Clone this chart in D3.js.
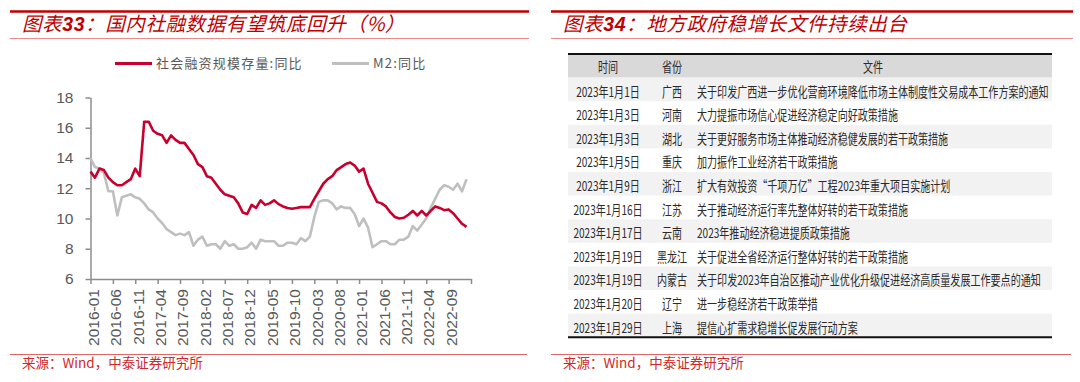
<!DOCTYPE html>
<html>
<head>
<meta charset="utf-8">
<script src="https://cdn.jsdelivr.net/npm/d3@7/dist/d3.min.js"></script>
<style>
  body { margin: 0; background: #fff; }
  svg { display: block; }
</style>
</head>
<body>
<div id="root"></div>
<script>
// monthly categories 2016-01 .. 2023-01
const months = d3.utcMonth.range(new Date(Date.UTC(2016, 0, 1)), new Date(Date.UTC(2023, 1, 1)))
  .map(d3.utcFormat('%Y-%m'));

// 社会融资规模存量:同比
const tsfYoy = [
  13.1, 12.7, 13.3, 13.2, 12.7, 12.4, 12.2, 12.2, 12.4, 12.6,
  13.3, 12.8, 16.4, 16.4, 15.8, 15.6, 15.5, 15.0, 15.5, 15.2,
  15.0, 15.0, 14.6, 14.2, 13.6, 13.4, 12.8, 12.7, 12.3, 11.9,
  11.6, 11.5, 11.4, 11.0, 10.4, 10.3, 10.9, 10.7, 11.2, 10.9,
  11.0, 11.2, 10.95, 10.8, 10.7, 10.65, 10.7, 10.75, 10.75, 10.75,
  11.3, 11.8, 12.3, 12.6, 12.8, 13.2, 13.4, 13.6, 13.7, 13.5,
  13.1, 13.3, 12.3, 11.7, 11.1, 11.0, 10.8, 10.4, 10.1, 10.0,
  10.05, 10.25, 10.5, 10.2, 10.5, 10.2, 10.5, 10.8, 10.7, 10.55,
  10.6, 10.35, 10.0, 9.65, 9.45
];

// M2:同比
const m2Yoy = [
  14.0, 13.4, 13.3, 13.0, 11.8, 11.8, 10.2, 11.4, 11.5, 11.6,
  11.4, 11.3, 11.0, 10.6, 10.4, 10.0, 9.7, 9.3, 9.1, 8.9,
  9.0, 8.9, 9.1, 8.2, 8.6, 8.8, 8.2, 8.3, 8.3, 8.0,
  8.5, 8.2, 8.3, 8.0, 8.0, 8.1, 8.4, 8.0, 8.6, 8.5,
  8.5, 8.5, 8.2, 8.2, 8.4, 8.4, 8.3, 8.7, 8.5, 8.8,
  10.1, 11.1, 11.2, 11.2, 11.0, 10.6, 10.8, 10.7, 10.7, 10.3,
  9.5, 10.0, 9.4, 8.1, 8.3, 8.5, 8.5, 8.3, 8.3, 8.6,
  8.6, 8.8, 9.5, 9.2, 9.6, 10.0, 10.7, 11.3, 11.9, 12.2,
  12.1, 11.9, 12.3, 11.8, 12.6
];

const yTicks = [6, 8, 10, 12, 14, 16, 18];
const xTickLabels = ['2016-01', '2016-06', '2016-11', '2017-04', '2017-09', '2018-02', '2018-07',
  '2018-12', '2019-05', '2019-10', '2020-03', '2020-08', '2021-01', '2021-06', '2021-11',
  '2022-04', '2022-09'];
const legendNames = ['社会融资规模存量:同比', 'M2:同比'];

// table
const tableHeader = ['时间', '省份', '文件'];
const docDates = ['2023年1月1日', '2023年1月3日', '2023年1月3日', '2023年1月5日', '2023年1月9日',
  '2023年1月16日', '2023年1月17日', '2023年1月19日', '2023年1月19日', '2023年1月20日', '2023年1月29日'];
const docProvinces = ['广西', '河南', '湖北', '重庆', '浙江', '江苏', '云南', '黑龙江', '内蒙古', '辽宁', '上海'];
const docTitles = [
  '关于印发广西进一步优化营商环境降低市场主体制度性交易成本工作方案的通知',
  '大力提振市场信心促进经济稳定向好政策措施',
  '关于更好服务市场主体推动经济稳健发展的若干政策措施',
  '加力振作工业经济若干政策措施',
  '扩大有效投资“千项万亿”工程2023年重大项目实施计划',
  '关于推动经济运行率先整体好转的若干政策措施',
  '2023年推动经济稳进提质政策措施',
  '关于促进全省经济运行整体好转的若干政策措施',
  '关于印发2023年自治区推动产业优化升级促进经济高质量发展工作要点的通知',
  '进一步稳经济若干政策举措',
  '提信心扩需求稳增长促发展行动方案'
];

const RED = '#c00000';
const LINE_RED = '#c8002e';
const GREY = '#bfbfbf';
const CJK = '"Noto Sans CJK SC", sans-serif';

const svg = d3.select('#root').append('svg')
  .attr('width', 1080)
  .attr('height', 382);

svg.append('rect').attr('width', 1080).attr('height', 382).attr('fill', '#fff');

function drawFrame(x0, x1, num, title) {
  const g = svg.append('g');
  g.append('line')
    .attr('x1', x0).attr('x2', x1).attr('y1', 11.5).attr('y2', 11.5)
    .attr('stroke', RED).attr('stroke-width', 2.6);
  g.append('line')
    .attr('x1', x0).attr('x2', x1).attr('y1', 38.5).attr('y2', 38.5)
    .attr('stroke', '#ec8a8a').attr('stroke-width', 1);
  const t = g.append('text')
    .attr('x', x0 + 12).attr('y', 31)
    .attr('fill', RED)
    .attr('font-size', 19.5)
    .attr('font-style', 'italic')
    .attr('letter-spacing', 0.6)
    .attr('font-family', CJK);
  t.append('tspan').text('图表');
  t.append('tspan')
    .attr('font-family', '"Liberation Sans", Arial, sans-serif')
    .attr('font-weight', 'bold')
    .text(num);
  t.append('tspan').text('：' + title);
  // source
  g.append('line')
    .attr('x1', x0).attr('x2', x1 - 2).attr('y1', 354.5).attr('y2', 354.5)
    .attr('stroke', '#e06666').attr('stroke-width', 1);
  g.append('text')
    .attr('x', x0 + 12).attr('y', 368)
    .attr('fill', '#d02828')
    .attr('font-size', 13.5)
    .attr('font-family', CJK)
    .text('来源：Wind，中泰证券研究所');
}

drawFrame(10, 529, '33', '国内社融数据有望筑底回升（%）');
drawFrame(551, 1073, '34', '地方政府稳增长文件持续出台');

// ---------- line chart ----------
const x = d3.scaleLinear().domain([0, 85]).range([90.5, 471]);
const y = d3.scaleLinear().domain([6, 18]).range([279, 97.5]);

svg.append('g')
  .attr('class', 'axis y-axis')
  .attr('transform', 'translate(' + x(0) + ',0)')
  .call(d3.axisLeft(y).tickValues(yTicks).tickSize(5).tickPadding(12).tickSizeOuter(0));

const xTickValues = xTickLabels.map(l => months.indexOf(l)).concat([85]);
const xAxis = svg.append('g')
  .attr('class', 'axis x-axis')
  .attr('transform', 'translate(0,' + y(6) + ')')
  .call(d3.axisBottom(x).tickValues(xTickValues).tickSize(5).tickSizeOuter(0)
    .tickFormat(i => (i < months.length ? months[i] : '')));

xAxis.selectAll('text')
  .attr('transform', 'rotate(-90)')
  .attr('text-anchor', 'end')
  .attr('x', -10)
  .attr('y', 0)
  .attr('dy', '0.5em');

svg.selectAll('.axis path, .axis line')
  .attr('stroke', '#8c8c8c')
  .attr('stroke-width', 1.5);
svg.selectAll('.axis text')
  .attr('fill', '#595959')
  .attr('font-size', 15.5)
  .attr('font-family', '"Liberation Sans", Arial, sans-serif');

const line = d3.line()
  .x((d, i) => x(i))
  .y(d => y(d));

svg.append('path')
  .datum(m2Yoy)
  .attr('d', line)
  .attr('fill', 'none')
  .attr('stroke', GREY)
  .attr('stroke-width', 2.6)
  .attr('stroke-linejoin', 'round');

svg.append('path')
  .datum(tsfYoy)
  .attr('d', line)
  .attr('fill', 'none')
  .attr('stroke', LINE_RED)
  .attr('stroke-width', 2.6)
  .attr('stroke-linejoin', 'round');

// legend
const legend = svg.append('g').attr('font-family', CJK).attr('font-size', 13).attr('fill', '#595959');
[[115, LINE_RED, legendNames[0]], [332, GREY, legendNames[1]]].forEach(([lx, c, name]) => {
  legend.append('line')
    .attr('x1', lx).attr('x2', lx + 37).attr('y1', 63.5).attr('y2', 63.5)
    .attr('stroke', c).attr('stroke-width', 3);
  legend.append('text')
    .attr('x', lx + 41).attr('y', 68)
    .attr('letter-spacing', 1.2)
    .text(name);
});

// ---------- table ----------
const tX0 = 568, tX1 = 1052, tTop = 54, rowH = 23.6;
const colDate = 608, colProv = 672, colDoc = 697, colDocHead = 873;
const table = svg.append('g').attr('font-family', CJK).attr('font-size', 13.5).attr('fill', '#2b2b2b');

table.append('rect')
  .attr('x', tX0).attr('y', tTop).attr('width', tX1 - tX0).attr('height', rowH)
  .attr('fill', '#d9d9d9');

docDates.forEach((d, i) => {
  if (i % 2 === 0) {
    table.append('rect')
      .attr('x', tX0).attr('y', tTop + rowH * (i + 1)).attr('width', tX1 - tX0).attr('height', rowH)
      .attr('fill', '#f2f2f2');
  }
});

function cell(cx, cy, txt, anchor) {
  table.append('g')
    .attr('transform', 'translate(' + cx + ',' + cy + ') scale(0.745,1)')
    .append('text')
    .attr('text-anchor', anchor)
    .text(txt);
}

const headY = tTop + 18;
cell(colDate, headY, tableHeader[0], 'middle');
cell(colProv, headY, tableHeader[1], 'middle');
cell(colDocHead, headY, tableHeader[2], 'middle');

docDates.forEach((d, i) => {
  const cy = tTop + rowH * (i + 1) + 19;
  cell(colDate, cy, d, 'middle');
  cell(colProv, cy, docProvinces[i], 'middle');
  cell(colDoc, cy, docTitles[i], 'start');
});

table.append('line')
  .attr('x1', tX0).attr('x2', tX1).attr('y1', tTop).attr('y2', tTop)
  .attr('stroke', '#111').attr('stroke-width', 2);
table.append('line')
  .attr('x1', tX0).attr('x2', tX1).attr('y1', tTop + rowH * 12).attr('y2', tTop + rowH * 12)
  .attr('stroke', '#111').attr('stroke-width', 2);
</script>
</body>
</html>
